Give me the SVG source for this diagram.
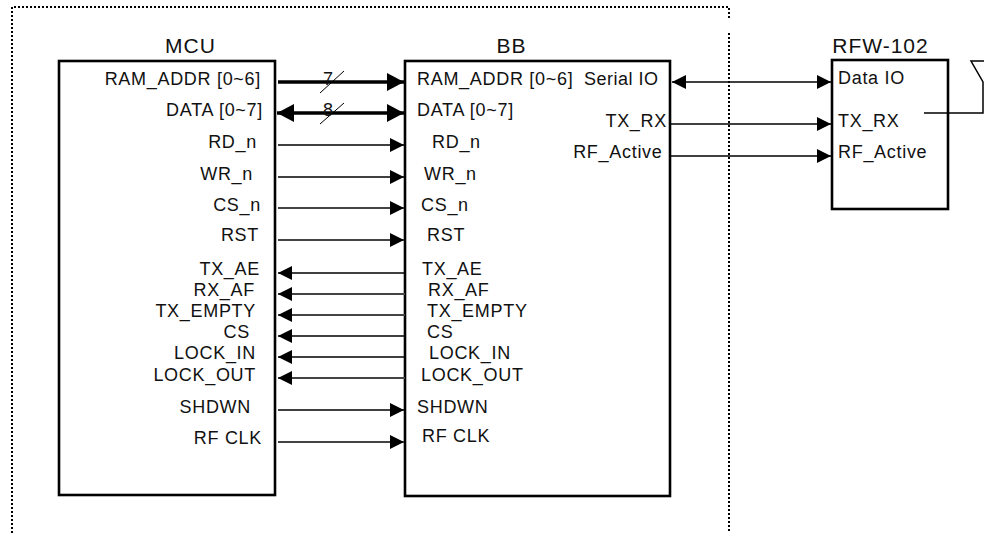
<svg xmlns="http://www.w3.org/2000/svg" width="984" height="533" viewBox="0 0 984 533">
<style>
text{font-family:"Liberation Sans",Arial,sans-serif;font-size:18px;letter-spacing:.7px;fill:#111}
.t{font-size:21px;letter-spacing:1px}
.e{text-anchor:end}
.box{fill:#fff;stroke:#000;stroke-width:2.6}
.thin{fill:none;stroke:#000;stroke-width:1.5}
.slash{fill:none;stroke:#000;stroke-width:1}
.gray{fill:none;stroke:#444;stroke-width:1.8}
.thick{fill:none;stroke:#000;stroke-width:3.4}
.dot{fill:none;stroke:#000;stroke-width:2;stroke-dasharray:2 2}
</style>
<defs>
<marker id="a" markerUnits="userSpaceOnUse" markerWidth="14" markerHeight="14" refX="14" refY="7" orient="auto-start-reverse"><path d="M0 0L14 7L0 14Z"/></marker>
<marker id="b" markerUnits="userSpaceOnUse" markerWidth="17" markerHeight="18" refX="17" refY="9" orient="auto-start-reverse"><path d="M0 0L17 9L0 18Z"/></marker>
</defs>
<g id="boundary">
<path class="dot" d="M12 533V7H729V20M729 33V533"/>
</g>
<g id="mcu">
<rect class="box" x="59" y="61" width="216" height="434"/>
<text class="t" x="190.500" y="53" text-anchor="middle">MCU</text>
<text class="e" x="261" y="85">RAM_ADDR [0~6]</text>
<text class="e" x="263" y="116">DATA [0~7]</text>
<text class="e" x="257" y="148">RD_n</text>
<text class="e" x="253" y="180">WR_n</text>
<text class="e" x="261" y="211">CS_n</text>
<text class="e" x="259" y="241">RST</text>
<text class="e" x="260" y="275">TX_AE</text>
<text class="e" x="255" y="296">RX_AF</text>
<text class="e" x="256" y="317">TX_EMPTY</text>
<text class="e" x="250" y="338">CS</text>
<text class="e" x="256" y="359">LOCK_IN</text>
<text class="e" x="256" y="381">LOCK_OUT</text>
<text class="e" x="251" y="413">SHDWN</text>
<text class="e" x="262" y="444">RF CLK</text>
</g>
<g id="bb">
<rect class="box" x="405" y="61" width="265" height="435"/>
<text class="t" x="511.500" y="53" text-anchor="middle">BB</text>
<text x="417" y="85">RAM_ADDR [0~6]</text>
<text x="417" y="116">DATA [0~7]</text>
<text x="432" y="148">RD_n</text>
<text x="424" y="180">WR_n</text>
<text x="421" y="211">CS_n</text>
<text x="427" y="241">RST</text>
<text x="422" y="275">TX_AE</text>
<text x="428" y="296">RX_AF</text>
<text x="427" y="317">TX_EMPTY</text>
<text x="427" y="338">CS</text>
<text x="429" y="359">LOCK_IN</text>
<text x="421" y="381">LOCK_OUT</text>
<text x="417" y="413">SHDWN</text>
<text x="422" y="442">RF CLK</text>
<text class="e" x="658.500" y="85" style="letter-spacing:.5px">Serial IO</text>
<text class="e" x="667" y="127">TX_RX</text>
<text class="e" x="662.500" y="158">RF_Active</text>
</g>
<g id="rfw">
<rect class="box" x="832" y="60" width="116" height="149"/>
<text class="t" x="880.500" y="53" text-anchor="middle">RFW-102</text>
<text x="838" y="84">Data IO</text>
<text x="838" y="127">TX_RX</text>
<text x="838" y="158">RF_Active</text>
</g>
<g id="antenna">
<path class="thin" d="M924 113H983V82L971 61H990"/>
</g>
<g id="connectors">
<path class="thick" d="M278 82H404" marker-end="url(#b)"/>
<path class="thick" d="M277 113H404" marker-start="url(#b)" marker-end="url(#b)"/>
<path class="slash" d="M320 93L344 71M320 124L344 103"/>
<path class="thin" d="M278 145H404" marker-end="url(#a)"/>
<path class="thin" d="M278 177H404" marker-end="url(#a)"/>
<path class="gray" d="M278 208H404" marker-end="url(#a)"/>
<path class="gray" d="M278 240H404" marker-end="url(#a)"/>
<path class="thin" d="M405 273H278" marker-end="url(#a)"/>
<path class="gray" d="M405 294H278" marker-end="url(#a)"/>
<path class="gray" d="M405 315H278" marker-end="url(#a)"/>
<path class="thin" d="M405 336H278" marker-end="url(#a)"/>
<path class="thin" d="M405 357H278" marker-end="url(#a)"/>
<path class="gray" d="M405 378H278" marker-end="url(#a)"/>
<path class="thin" d="M278 410H404" marker-end="url(#a)"/>
<path class="gray" d="M278 442H404" marker-end="url(#a)"/>
<path class="thin" d="M672 82H831" marker-start="url(#a)" marker-end="url(#a)"/>
<path class="thin" d="M671 124H831" marker-end="url(#a)"/>
<path class="thin" d="M671 156H831" marker-end="url(#a)"/>
</g>
<text x="323" y="85">7</text>
<text x="323" y="116">8</text>
</svg>
